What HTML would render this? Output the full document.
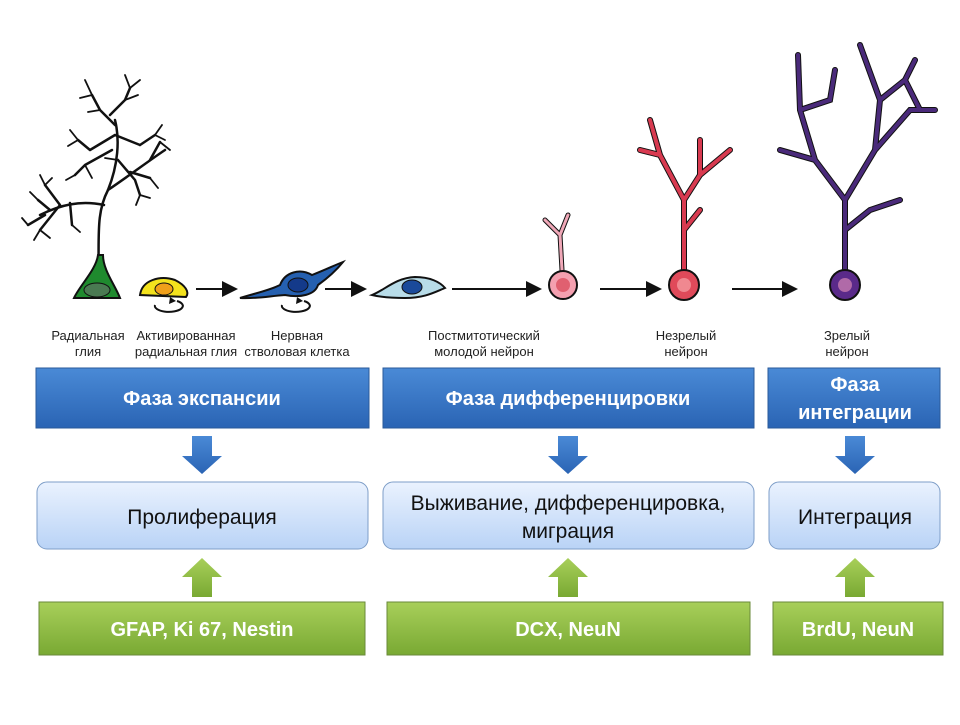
<!DOCTYPE html>
<html><head><meta charset="utf-8"><style>
body{margin:0;background:#fff;width:960px;height:720px;overflow:hidden}
text{font-family:"Liberation Sans",sans-serif}
</style></head><body>
<svg width="960" height="720" viewBox="0 0 960 720" xmlns="http://www.w3.org/2000/svg">
<defs>
<linearGradient id="bl" x1="0" y1="0" x2="0" y2="1"><stop offset="0" stop-color="#4a8ad6"/><stop offset="1" stop-color="#2a64b4"/></linearGradient>
<linearGradient id="lb" x1="0" y1="0" x2="0" y2="1"><stop offset="0" stop-color="#eaf2fe"/><stop offset="1" stop-color="#b9d3f6"/></linearGradient>
<linearGradient id="gr" x1="0" y1="0" x2="0" y2="1"><stop offset="0" stop-color="#a8cf5a"/><stop offset="1" stop-color="#79a933"/></linearGradient>
<marker id="ah" markerWidth="8" markerHeight="8" refX="7" refY="4" orient="auto"><path d="M0,0L8,4L0,8z" fill="#111"/></marker>
</defs>
<!-- radial glia tree -->
<g stroke="#111" stroke-width="2.5" fill="none" stroke-linecap="round">
<path d="M98,280 C100,240 95,215 108,190 C118,165 120,140 115,120"/>
<path d="M108,190 C130,175 150,160 165,150"/>
<path d="M104,205 C80,200 60,205 40,215"/>
<path d="M60,205 L45,185 M60,205 L40,230 M45,215 L28,225 M50,210 L38,200 M70,203 L72,225"/>
<path d="M115,135 L90,150 M115,135 L140,145 M115,125 L100,110 M112,150 L85,165 M118,160 L135,180 M130,172 L150,178 M140,145 L155,135 M100,110 L92,95 M110,115 L125,100 M125,100 L130,88 M90,150 L78,140 M150,160 L160,142 M85,165 L75,175 M135,180 L140,195"/>
<path stroke-width="1.8" d="M92,95 L85,80 M92,95 L80,98 M125,100 L138,95 M130,88 L125,75 M130,88 L140,80 M78,140 L70,130 M78,140 L68,146 M155,135 L162,125 M155,135 L165,140 M160,142 L170,150 M75,175 L66,180 M140,195 L150,198 M140,195 L136,205 M38,200 L30,192 M40,230 L34,240 M40,230 L50,238 M28,225 L22,218 M72,225 L80,232 M45,185 L40,175 M45,185 L52,178 M150,178 L158,188 M100,110 L88,112 M118,160 L105,158 M85,165 L92,178"/>
</g>
<path d="M98,255 C96,270 80,285 74,298 L120,298 C115,285 103,270 103,255 Z" fill="#1f8a2e" stroke="#111" stroke-width="2"/>
<ellipse cx="97" cy="290" rx="13" ry="7" fill="#4a7a52" stroke="#111"/>
<!-- yellow -->
<path d="M140,295 C142,280 160,275 175,280 C185,285 190,292 186,297 Z" fill="#f3e21d" stroke="#111" stroke-width="2"/>
<ellipse cx="164" cy="289" rx="9" ry="6" fill="#f0a01a" stroke="#111"/>
<path d="M155,305 a14,6 0 1,0 22,-4" fill="none" stroke="#111" stroke-width="2"/>
<path d="M170,297 l6,4 -7,3z" fill="#111"/>
<!-- blue stem -->
<path d="M240,298 C260,292 270,290 280,285 C285,272 300,268 312,275 C325,270 335,265 343,262 C335,272 325,280 318,285 C315,295 300,298 285,295 C270,296 255,299 240,298Z" fill="#2560b0" stroke="#111" stroke-width="2"/>
<ellipse cx="298" cy="285" rx="10" ry="7" fill="#143a8a" stroke="#111"/>
<path d="M282,305 a14,6 0 1,0 22,-4" fill="none" stroke="#111" stroke-width="2"/>
<path d="M297,297 l6,4 -7,3z" fill="#111"/>
<!-- light blue -->
<path d="M372,295 C385,290 395,278 415,277 C430,277 440,282 445,288 C435,292 425,298 405,298 C390,298 380,297 372,295Z" fill="#b8dce8" stroke="#111" stroke-width="2"/>
<ellipse cx="412" cy="287" rx="10" ry="7" fill="#1a4a9a" stroke="#111"/>
<!-- arrows -->
<g stroke="#111" stroke-width="2" marker-end="url(#ah)">
<line x1="196" y1="289" x2="236" y2="289"/><line x1="325" y1="289" x2="365" y2="289"/>
<line x1="452" y1="289" x2="540" y2="289"/><line x1="600" y1="289" x2="660" y2="289"/>
<line x1="732" y1="289" x2="796" y2="289"/>
</g>
<!-- postmitotic -->
<g fill="none" stroke="#111" stroke-width="5" stroke-linecap="round"><path d="M562,270 L560,235 L545,220 M560,235 L568,215"/></g>
<g fill="none" stroke="#f0a8b8" stroke-width="3" stroke-linecap="round"><path d="M562,270 L560,235 L545,220 M560,235 L568,215"/></g>
<circle cx="563" cy="285" r="14" fill="#f4a0b0" stroke="#111" stroke-width="2"/>
<circle cx="563" cy="285" r="7" fill="#e06070"/>
<!-- immature -->
<g fill="none" stroke="#111" stroke-width="6" stroke-linecap="round"><path d="M684,270 L684,200 L660,155 L650,120 M684,200 L700,175 L730,150 M700,175 L700,140 M660,155 L640,150 M684,230 L700,210"/></g>
<g fill="none" stroke="#d83a50" stroke-width="4" stroke-linecap="round"><path d="M684,270 L684,200 L660,155 L650,120 M684,200 L700,175 L730,150 M700,175 L700,140 M660,155 L640,150 M684,230 L700,210"/></g>
<circle cx="684" cy="285" r="15" fill="#e04a5a" stroke="#111" stroke-width="2"/>
<circle cx="684" cy="285" r="7" fill="#f08890"/>
<!-- mature -->
<g fill="none" stroke="#111" stroke-width="6" stroke-linecap="round"><path d="M845,270 L845,200 L815,160 L800,110 L798,55 M815,160 L780,150 M845,200 L875,150 L880,100 L860,45 M875,150 L910,110 L935,110 M880,100 L905,80 L920,110 M800,110 L830,100 L835,70 M845,230 L870,210 L900,200 M905,80 L915,60"/></g>
<g fill="none" stroke="#4a2a7a" stroke-width="4" stroke-linecap="round"><path d="M845,270 L845,200 L815,160 L800,110 L798,55 M815,160 L780,150 M845,200 L875,150 L880,100 L860,45 M875,150 L910,110 L935,110 M880,100 L905,80 L920,110 M800,110 L830,100 L835,70 M845,230 L870,210 L900,200 M905,80 L915,60"/></g>
<circle cx="845" cy="285" r="15" fill="#5a2a8a" stroke="#111" stroke-width="2"/>
<circle cx="845" cy="285" r="7" fill="#b06aa8"/>
<!-- labels -->
<g font-size="13" fill="#222" text-anchor="middle">
<text x="88" y="340">Радиальная</text><text x="88" y="356">глия</text>
<text x="186" y="340">Активированная</text><text x="186" y="356">радиальная глия</text>
<text x="297" y="340">Нервная</text><text x="297" y="356">стволовая клетка</text>
<text x="484" y="340">Постмитотический</text><text x="484" y="356">молодой нейрон</text>
<text x="686" y="340">Незрелый</text><text x="686" y="356">нейрон</text>
<text x="847" y="340">Зрелый</text><text x="847" y="356">нейрон</text>
</g>
<!-- blue boxes -->
<g fill="url(#bl)" stroke="#2a5a9a" stroke-width="1">
<rect x="36" y="368" width="333" height="60"/><rect x="383" y="368" width="371" height="60"/><rect x="768" y="368" width="172" height="60"/>
</g>
<g font-size="20" font-weight="bold" fill="#fff" text-anchor="middle">
<text x="202" y="405">Фаза экспансии</text><text x="568" y="405">Фаза дифференцировки</text>
<text x="855" y="391">Фаза</text><text x="855" y="419">интеграции</text>
</g>
<!-- down arrows -->
<g fill="url(#bl)">
<path d="M192,436h20v20h10l-20,18l-20,-18h10z"/><path d="M558,436h20v20h10l-20,18l-20,-18h10z"/><path d="M845,436h20v20h10l-20,18l-20,-18h10z"/>
</g>
<!-- light boxes -->
<g fill="url(#lb)" stroke="#7e9ec8" stroke-width="1">
<rect x="37" y="482" width="331" height="67" rx="10"/><rect x="383" y="482" width="371" height="67" rx="10"/><rect x="769" y="482" width="171" height="67" rx="10"/>
</g>
<g font-size="21" fill="#111" text-anchor="middle">
<text x="202" y="524">Пролиферация</text>
<text x="568" y="510">Выживание, дифференцировка,</text><text x="568" y="538">миграция</text>
<text x="855" y="524">Интеграция</text>
</g>
<!-- up arrows -->
<g fill="url(#gr)">
<path d="M192,597h20v-20h10l-20,-19l-20,19h10z"/><path d="M558,597h20v-20h10l-20,-19l-20,19h10z"/><path d="M845,597h20v-20h10l-20,-19l-20,19h10z"/>
</g>
<!-- green boxes -->
<g fill="url(#gr)" stroke="#6a8a3a" stroke-width="1">
<rect x="39" y="602" width="326" height="53"/><rect x="387" y="602" width="363" height="53"/><rect x="773" y="602" width="170" height="53"/>
</g>
<g font-size="20" font-weight="bold" fill="#fff" text-anchor="middle">
<text x="202" y="636">GFAP, Ki 67, Nestin</text><text x="568" y="636">DCX, NeuN</text><text x="858" y="636">BrdU, NeuN</text>
</g>
</svg>
</body></html>
